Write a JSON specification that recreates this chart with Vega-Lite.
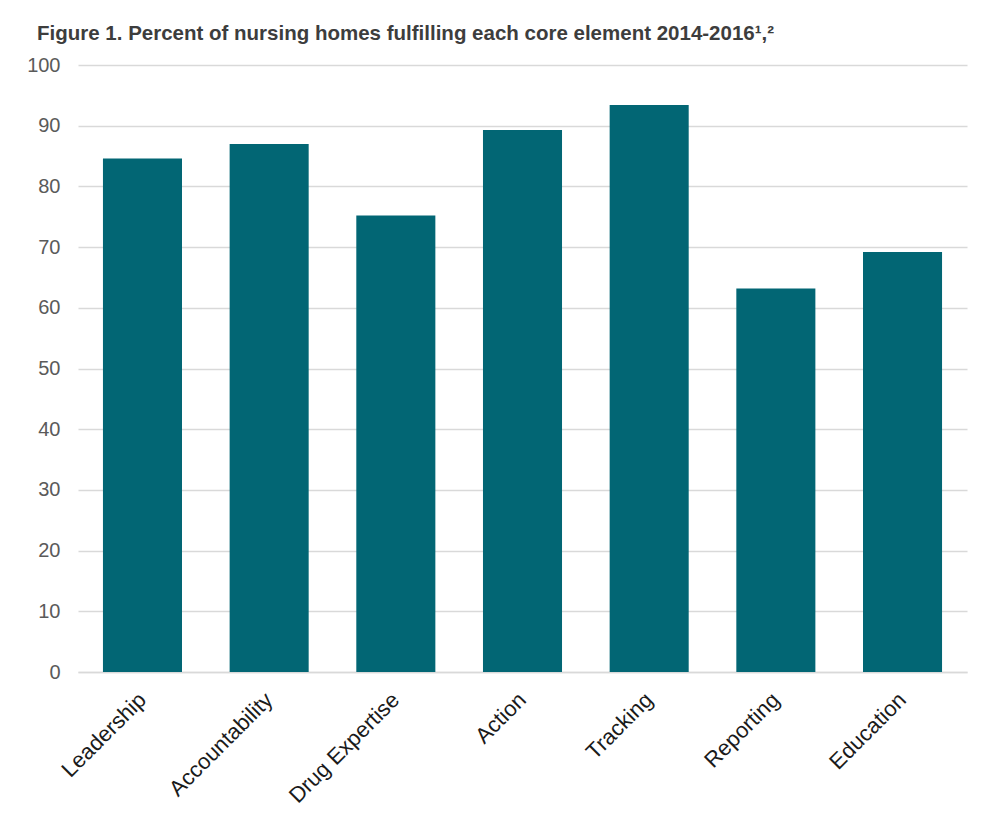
{
  "$schema": "https://vega.github.io/schema/vega-lite/v6.json",
  "autosize": "none",
  "width": 889,
  "height": 607,
  "padding": {"left": 78, "top": 65, "right": 38, "bottom": 145},
  "background": "white",
  "title": {
    "text": "Figure 1. Percent of nursing homes fulfilling each core element 2014-2016¹,²",
    "anchor": "start",
    "frame": "group",
    "dx": -41,
    "offset": 11,
    "font": "Liberation Sans",
    "fontSize": 20.5,
    "fontWeight": "bold",
    "color": "#3d3d3d"
  },
  "data": {
    "values": [
      {"element": "Leadership", "percent": 84.6},
      {"element": "Accountability", "percent": 87.0},
      {"element": "Drug Expertise", "percent": 75.2},
      {"element": "Action", "percent": 89.3},
      {"element": "Tracking", "percent": 93.4},
      {"element": "Reporting", "percent": 63.2},
      {"element": "Education", "percent": 69.2}
    ]
  },
  "mark": {"type": "bar", "color": "#026674"},
  "encoding": {
    "x": {
      "field": "element",
      "type": "nominal",
      "sort": null,
      "title": null,
      "scale": {"paddingInner": 0.376, "paddingOuter": 0.197},
      "axis": {
        "labelAngle": -45,
        "labelAlign": "right",
        "labelBaseline": "middle",
        "labelFont": "Liberation Sans",
        "labelFontSize": 22,
        "labelColor": "#1a1a1a",
        "labelPadding": 24,
        "ticks": false,
        "domain": true,
        "domainColor": "#d9d9d9",
        "domainWidth": 1.5,
        "grid": false
      }
    },
    "y": {
      "field": "percent",
      "type": "quantitative",
      "title": null,
      "scale": {"domain": [0, 100], "nice": false},
      "axis": {
        "values": [0, 10, 20, 30, 40, 50, 60, 70, 80, 90, 100],
        "labelFont": "Liberation Sans",
        "labelFontSize": 20,
        "labelColor": "#5a5a5a",
        "labelPadding": 18,
        "ticks": false,
        "domain": false,
        "grid": true,
        "gridColor": "#d9d9d9",
        "gridWidth": 1.5
      }
    }
  },
  "config": {
    "view": {"stroke": null}
  }
}
